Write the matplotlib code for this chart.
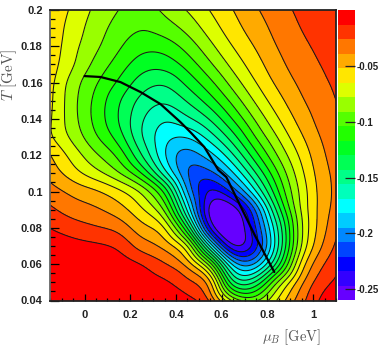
import numpy as np
import matplotlib
matplotlib.use("Agg")
import matplotlib.pyplot as plt
from matplotlib.colors import ListedColormap, BoundaryNorm
from matplotlib.tri import Triangulation, CubicTriInterpolator

plt.rcParams['mathtext.fontset'] = 'cm'

mu_axis = [-0.15, -0.05, 0.05, 0.15, 0.25, 0.35, 0.45, 0.55, 0.65, 0.75, 0.85, 0.95, 1.05, 1.10]
T_axis = [0.20, 0.19, 0.18, 0.17, 0.16, 0.15, 0.14, 0.13, 0.12, 0.11, 0.10, 0.09, 0.08, 0.07, 0.06, 0.05, 0.04]
# depth of the surface, counted in colour bands of width 0.013
depth = [
    [4.2, 5.2, 6.25, 7.0, 7.6, 6.75, 5.95, 4.95, 4.0, 3.1, 2.4, 1.75, 1.4, 1.2],
    [4.35, 5.45, 6.55, 7.4, 7.95, 7.5, 6.7, 5.5, 4.4, 3.45, 2.65, 1.95, 1.55, 1.3],
    [4.35, 5.7, 6.8, 7.85, 8.7, 8.6, 7.6, 6.25, 4.95, 3.9, 2.9, 2.2, 1.7, 1.4],
    [4.5, 5.9, 7.3, 8.45, 9.55, 9.6, 8.6, 7.15, 5.65, 4.4, 3.25, 2.45, 1.9, 1.6],
    [4.7, 6.55, 7.9, 9.15, 10.5, 10.9, 9.7, 8.25, 6.55, 5.0, 3.7, 2.75, 2.1, 1.85],
    [4.8, 6.7, 8.3, 9.9, 11.35, 11.9, 10.9, 9.45, 7.65, 5.8, 4.3, 3.1, 2.3, 2.0],
    [4.9, 6.65, 8.35, 10.05, 11.9, 12.95, 12.2, 10.9, 8.9, 6.8, 5.0, 3.55, 2.5, 2.2],
    [4.9, 6.3, 7.9, 9.45, 12.0, 13.7, 14.0, 12.5, 10.4, 7.9, 5.85, 4.1, 2.75, 2.35],
    [3.95, 5.4, 6.85, 8.25, 11.0, 14.0, 15.6, 14.4, 12.1, 9.3, 6.8, 4.7, 3.0, 2.55],
    [3.4, 4.6, 5.65, 6.9, 9.0, 12.6, 16.2, 16.4, 14.1, 11.0, 7.9, 5.2, 3.2, 2.75],
    [2.6, 3.25, 3.8, 4.7, 6.1, 9.0, 15.2, 18.4, 16.6, 13.0, 8.9, 5.6, 3.3, 2.8],
    [1.8, 2.5, 2.85, 3.55, 4.85, 7.0, 13.2, 19.8, 19.8, 16.0, 10.3, 5.7, 3.3, 2.65],
    [1.0, 1.5, 1.9, 2.3, 3.7, 4.8, 9.8, 18.6, 20.4, 17.0, 11.75, 6.0, 3.15, 2.25],
    [0.55, 0.65, 0.8, 1.15, 2.5, 3.3, 5.5, 13.2, 19.4, 17.6, 12.0, 5.8, 2.7, 1.85],
    [0.3, 0.35, 0.4, 0.45, 0.95, 1.9, 3.3, 7.2, 14.5, 15.0, 10.4, 4.4, 1.9, 1.3],
    [0.2, 0.2, 0.25, 0.3, 0.45, 0.8, 1.75, 3.25, 11.2, 10.9, 6.5, 3.1, 1.2, 0.85],
    [0.1, 0.1, 0.15, 0.2, 0.3, 0.4, 0.7, 2.0, 6.4, 7.3, 4.7, 2.3, 0.6, 0.3],
]
line_mu = [0.0, 0.07, 0.157, 0.245, 0.332, 0.419, 0.467, 0.524, 0.585, 0.62, 0.742, 0.83]
line_T = [0.1636, 0.1631, 0.1603, 0.1548, 0.1482, 0.1383, 0.1322, 0.1245, 0.1119, 0.108, 0.0766, 0.0557]
band_colors = ['#6600ff', '#3300ff', '#0000ff', '#0044ff', '#0088ff', '#00ccff', '#00ffff', '#00ffbb',
               '#00ff88', '#00ff55', '#00ff22', '#22ff00', '#55ff00', '#99ff00', '#ddff00', '#ffe600',
               '#ffaa00', '#ff7700', '#ff3300', '#ff0000']
levels = np.linspace(-0.26, 0.0, 21)
x_ticks = [0, 0.2, 0.4, 0.6, 0.8, 1.0]
x_labels = ['0', '0.2', '0.4', '0.6', '0.8', '1']
y_ticks = [0.04, 0.06, 0.08, 0.1, 0.12, 0.14, 0.16, 0.18, 0.2]
y_labels = ['0.04', '0.06', '0.08', '0.1', '0.12', '0.14', '0.16', '0.18', '0.2']
cb_ticks = [-0.05, -0.1, -0.15, -0.2, -0.25]
cb_labels = ['-0.05', '-0.1', '-0.15', '-0.2', '-0.25']


def soften(z, sx, sy):
    """Light blur of a hand-read field, so reading errors do not show as kinks."""
    for s, axis in ((sx, 1), (sy, 0)):
        r = int(3 * s)
        k = np.exp(-0.5 * (np.arange(-r, r + 1) / s) ** 2)
        k /= k.sum()
        pad = [(0, 0), (0, 0)]
        pad[axis] = (r, r)
        zz = np.pad(z, pad, mode='reflect', reflect_type='odd')
        z = np.apply_along_axis(lambda m: np.convolve(m, k, mode='valid'), axis, zz)
    return z


W, H = 382, 354
fig = plt.figure(figsize=(W / 100, H / 100), dpi=100)
ax = fig.add_axes([49.6 / W, (H - 300.5) / H, (336 - 49.6) / W, (300.5 - 10) / H])

MU, TT = np.meshgrid(mu_axis, T_axis)
values = -0.013 * np.array(depth)
tri = Triangulation(MU.ravel(), TT.ravel())
interp = CubicTriInterpolator(tri, values.ravel(), kind='geom')
gx = np.linspace(-0.15, 1.10, 251)
gy = np.linspace(0.04, 0.20, 161)
GX, GY = np.meshgrid(gx, gy)
field = np.ma.filled(interp(GX, GY), np.nan)
field = np.where(np.isnan(field), -0.001, field)
field = soften(field, 6, 3.0)
field = np.clip(field, -0.2599, -0.0001)

cmap = ListedColormap(band_colors)
norm = BoundaryNorm(levels, cmap.N)
ax.contourf(GX, GY, field, levels=levels, cmap=cmap, norm=norm)
ax.contour(GX, GY, field, levels=levels[1:-1], colors='#1a1a1a', linewidths=0.75, linestyles='solid')
ax.plot(line_mu, line_T, color='black', lw=1.6, solid_capstyle='round')

ax.set_xlim(-0.153, 1.1)
ax.set_ylim(0.04, 0.2)
tick_font = dict(family=['Liberation Sans'], fontsize=8, fontweight='bold', color='#222222')
ax.set_xticks(x_ticks, x_labels, **tick_font)
ax.set_yticks(y_ticks, y_labels, **tick_font)
ax.set_xticks(np.arange(-0.15, 1.101, 0.05), minor=True)
ax.set_yticks(np.arange(0.04, 0.2001, 0.005), minor=True)
ax.tick_params(axis='x', which='major', direction='in', length=5, width=0.9, pad=7, top=False)
ax.tick_params(axis='x', which='minor', direction='in', length=2.5, width=0.9, top=False)
ax.tick_params(axis='y', which='major', direction='in', length=6.5, width=0.9, pad=5, right=False)
ax.tick_params(axis='y', which='minor', direction='in', length=3.5, width=0.9, right=False)
for side in ax.spines.values():
    side.set_linewidth(1.3)
    side.set_color('#222222')
ax.spines['left'].set_color('#666666')

fig.text(291 / W, 1 - 337 / H, r'$\mu_B\ \mathrm{[GeV]}$', fontsize=10.5, color='#555555', ha='center', va='center')
fig.text(9 / W, 1 - 75 / H, r'$T\ \mathrm{[GeV]}$', fontsize=11, color='#555555', rotation=90, ha='center', va='center')

cax = fig.add_axes([338 / W, (H - 300.5) / H, 17 / W, 290.5 / H])
cax.pcolormesh([0, 1], levels, np.arange(20).reshape(-1, 1), cmap=cmap, shading='flat')
cax.set_xlim(0, 1)
cax.set_ylim(-0.26, 0)
cax.set_xticks([])
cax.yaxis.tick_right()
cax.set_yticks(cb_ticks, cb_labels, family=['Liberation Sans'], fontsize=7, fontweight='bold', color='#222222')
cax.tick_params(axis='y', direction='in', length=7, width=0.9, pad=1.5, color='#222222')
for side in cax.spines.values():
    side.set_visible(False)

fig.savefig('out.png', dpi=100)
